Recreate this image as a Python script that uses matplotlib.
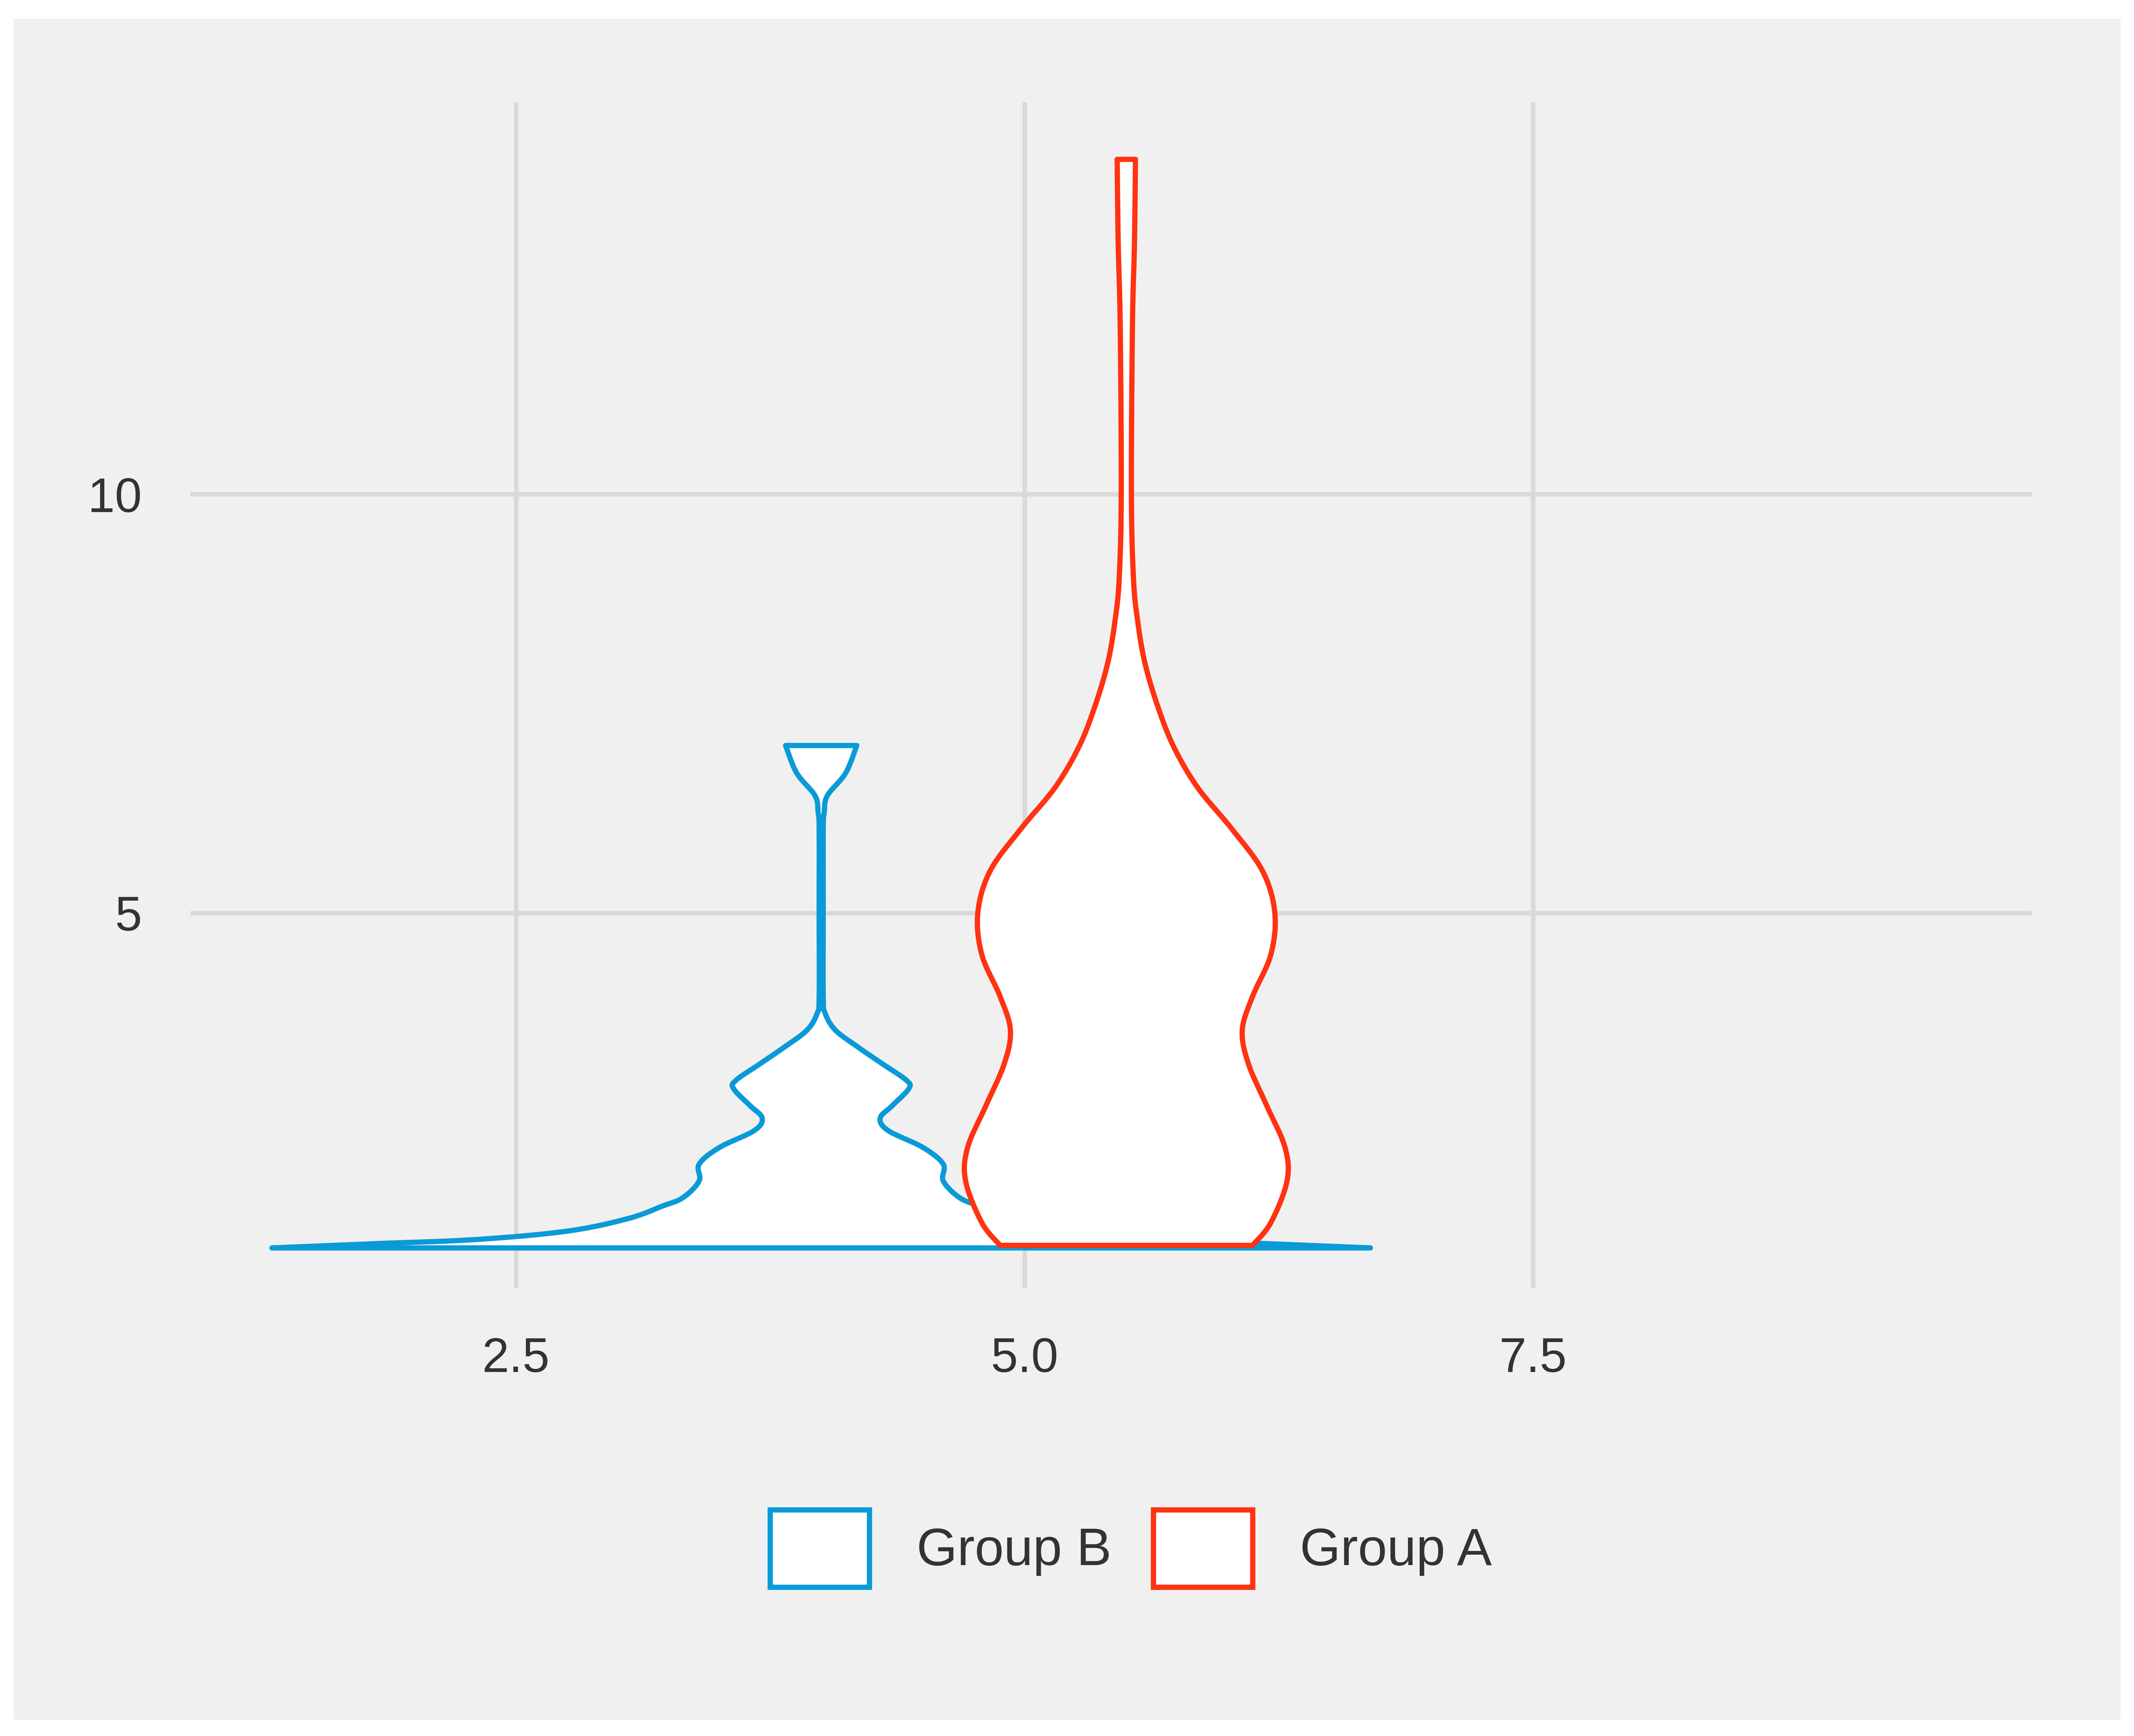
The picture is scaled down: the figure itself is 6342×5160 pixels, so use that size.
import matplotlib
matplotlib.use("Agg")
import matplotlib.pyplot as plt
from matplotlib.patches import Patch, Rectangle
import numpy as np

plt.rcParams['font.family'] = ['Liberation Sans', 'DejaVu Sans']

groups = ["Group B", "Group A"]
centers = [4.0, 5.5]
colors = ["#0a9ad8", "#ff3311"]

# violin outline profiles: y value, half-width (x units)
b_y = [1.0, 1.05, 1.1, 1.2, 1.35, 1.5, 1.6, 1.8, 2.0, 2.2, 2.4, 2.55, 2.7, 2.9, 3.0, 3.2, 3.4, 3.6, 3.8, 4.0, 5.0, 6.0, 6.2, 6.4, 6.67, 7.0]
b_w = [2.7, 2.2, 1.7, 1.25, 0.95, 0.78, 0.68, 0.60, 0.60, 0.50, 0.33, 0.29, 0.35, 0.43, 0.42, 0.30, 0.18, 0.07, 0.02, 0.01, 0.01, 0.01, 0.015, 0.03, 0.12, 0.175]
a_y = [1.03, 1.3, 1.8, 2.2, 2.7, 3.2, 3.6, 4.0, 4.5, 5.0, 5.5, 6.0, 6.5, 7.0, 7.5, 8.0, 8.5, 9.0, 10.0, 12.0, 13.0, 14.0]
a_w = [0.62, 0.71, 0.79, 0.78, 0.69, 0.60, 0.57, 0.62, 0.71, 0.73, 0.67, 0.52, 0.35, 0.23, 0.15, 0.09, 0.055, 0.035, 0.025, 0.03, 0.04, 0.045]
x_ticks = [2.5, 5.0, 7.5]
y_ticks = [5, 10]


def smooth(px, py, n=20):
    """Catmull-Rom curve through the given outline points (for drawing only)."""
    P = np.column_stack([px, py])
    P = np.vstack([P[0], P, P[-1]])
    out = []
    t = np.linspace(0, 1, n, endpoint=False)[:, None]
    for i in range(1, len(P) - 2):
        p0, p1, p2, p3 = P[i - 1], P[i], P[i + 1], P[i + 2]
        c = 0.5 * ((2 * p1) + (-p0 + p2) * t + (2 * p0 - 5 * p1 + 4 * p2 - p3) * t ** 2
                   + (-p0 + 3 * p1 - 3 * p2 + p3) * t ** 3)
        out.append(c)
    out.append(P[-2][None, :])
    o = np.vstack(out)
    return o[:, 0], o[:, 1]


fig = plt.figure(figsize=(15.855, 12.9), dpi=400)
fig.patches.append(Rectangle((10/1568, 12/1280), 1548/1568, 1254/1280, transform=fig.transFigure,
                             facecolor="#f0f0f0", edgecolor="none", zorder=-10))
ax = fig.add_axes([0.0893, 0.258, 0.952 - 0.0893, 0.941 - 0.258])
ax.set_facecolor("#f0f0f0")
for s in ax.spines.values():
    s.set_visible(False)
ax.set_xlim(0.9, 9.95)
ax.set_ylim(0.52, 14.68)
ax.set_xticks(x_ticks)
ax.set_xticklabels(["2.5", "5.0", "7.5"])
ax.set_yticks(y_ticks)
ax.grid(True, color="#d9d9d9", linewidth=2.4)
ax.set_axisbelow(True)
ax.tick_params(length=0, labelsize=26, labelcolor="#333333", pad=26)

for c, col, ys, ws in [(centers[0], colors[0], b_y, b_w), (centers[1], colors[1], a_y, a_w)]:
    sw, sy = smooth(np.array(ws), np.array(ys))
    xs = np.concatenate([c - sw, (c + sw)[::-1]])
    yy = np.concatenate([sy, sy[::-1]])
    ax.fill(xs, yy, facecolor="white", edgecolor=col, linewidth=2.8, joinstyle="round")

handles = [Patch(facecolor="white", edgecolor=colors[i], linewidth=2.8, label=groups[i]) for i in range(2)]
fig.legend(handles=handles, loc="center", bbox_to_anchor=(0.53, 0.108), ncol=2, frameon=False,
           fontsize=28, handlelength=1.9, handleheight=1.9, handletextpad=0.9, columnspacing=0.8,
           labelcolor="#333333")
fig.savefig("out.png", dpi=400, facecolor="white")
